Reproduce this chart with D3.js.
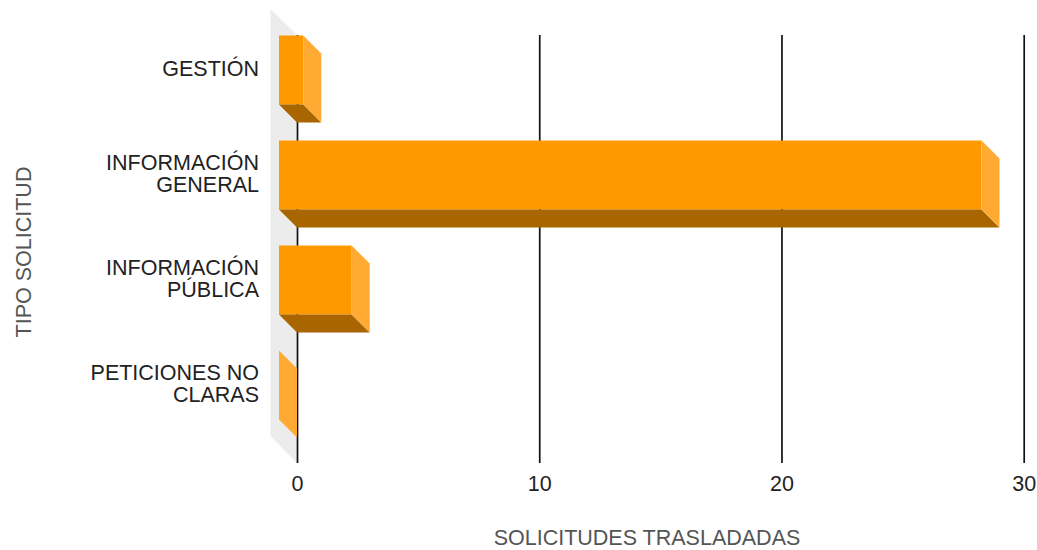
<!DOCTYPE html>
<html>
<head>
<meta charset="utf-8">
<script src="https://cdn.jsdelivr.net/npm/d3@7"></script>
<style>
  html, body { margin: 0; padding: 0; background: #fff; }
  svg { display: block; }
  text { font-family: "Liberation Sans", Arial, sans-serif; }
</style>
</head>
<body>
<div id="svg-container"></div>
<script>
// data
const categories = ["GESTIÓN", "INFORMACIÓN GENERAL", "INFORMACIÓN PÚBLICA", "PETICIONES NO CLARAS"];
const categoryLines = [["GESTIÓN"], ["INFORMACIÓN", "GENERAL"], ["INFORMACIÓN", "PÚBLICA"], ["PETICIONES NO", "CLARAS"]];
const values = [1, 29, 3, 0];
const xTicks = [0, 10, 20, 30];

const width = 1037;
const height = 550;
const depth = 18; // 3d offset of the back plane
const fontSize = "21.5px";

const svg = d3.select("#svg-container").append("svg")
  .attr("width", width)
  .attr("height", height);

// scales: x is on the back plane, y on the front plane
const xScale = d3.scaleLinear().domain([0, 30]).range([297, 1023.7]);
const yScale = d3.scaleBand()
  .domain(categories)
  .range([17.5, 437.5])
  .paddingInner(0.343)
  .paddingOuter(0.1715);

// back wall
const gridTop = 35;
const gridBottom = 463;
svg.append("polygon")
  .attr("points", [
    [xScale(0) - depth - 8.5, gridTop - 26],
    [xScale(0), gridTop],
    [xScale(0), gridBottom],
    [xScale(0) - depth - 8.5, gridBottom - 27]
  ].join(" "))
  .attr("fill", "#ececec");

// grid and tick labels
const xAxis = d3.axisBottom(xScale)
  .tickValues(xTicks)
  .tickSize(gridTop - gridBottom)
  .tickPadding(0);

const axisG = svg.append("g")
  .attr("transform", `translate(0, ${gridBottom})`)
  .call(xAxis);
axisG.select(".domain").remove();
axisG.selectAll("line").attr("stroke", "#111").attr("stroke-width", 1.7);
axisG.selectAll("text")
  .attr("y", 28)
  .attr("dy", 0)
  .attr("fill", "#222")
  .style("font-size", fontSize)
  .style("font-family", '"Liberation Sans", Arial, sans-serif');

// bars
const bars = svg.selectAll(".bar")
  .data(categories.map((c, i) => ({ c, v: values[i] })))
  .enter()
  .append("g")
  .attr("class", "bar");

const bw = yScale.bandwidth();
const x0 = xScale(0) - depth;

// front face
bars.append("rect")
  .attr("x", x0)
  .attr("y", (d) => yScale(d.c))
  .attr("width", (d) => xScale(d.v) - xScale(0))
  .attr("height", bw)
  .attr("fill", "#ff9900");

// underside
bars.append("polygon")
  .attr("points", (d) => {
    const y = yScale(d.c) + bw;
    const x1 = xScale(d.v) - depth;
    return [[x0, y], [x1, y], [x1 + depth, y + depth], [x0 + depth, y + depth]].join(" ");
  })
  .attr("fill", "#a86500");

// end face
bars.append("polygon")
  .attr("points", (d) => {
    const y = yScale(d.c);
    const x1 = xScale(d.v) - depth;
    return [[x1, y], [x1 + depth, y + depth], [x1 + depth, y + bw + depth], [x1, y + bw]].join(" ");
  })
  .attr("fill", "#ffab33");

// category labels
const lineHeight = 22;
const labels = svg.selectAll(".cat-label")
  .data(categories)
  .enter()
  .append("text")
  .attr("class", "cat-label")
  .attr("text-anchor", "end")
  .attr("fill", "#222")
  .style("font-size", fontSize);

labels.each(function (d, i) {
  const lines = categoryLines[i];
  const mid = yScale(d) + bw / 2 - (lines.length > 1 ? 1.5 : 1);
  d3.select(this).selectAll("tspan")
    .data(lines)
    .enter()
    .append("tspan")
    .attr("x", 259)
    .attr("y", (l, j) => mid + 7 + (j - (lines.length - 1) / 2) * lineHeight)
    .text((l) => l);
});

// axis titles
svg.append("text")
  .attr("x", 647)
  .attr("y", 545)
  .attr("text-anchor", "middle")
  .attr("fill", "#555")
  .style("font-size", fontSize)
  .text("SOLICITUDES TRASLADADAS");

svg.append("text")
  .attr("transform", "translate(31, 252) rotate(-90)")
  .attr("text-anchor", "middle")
  .attr("fill", "#555")
  .style("font-size", fontSize)
  .text("TIPO SOLICITUD");
</script>
</body>
</html>
